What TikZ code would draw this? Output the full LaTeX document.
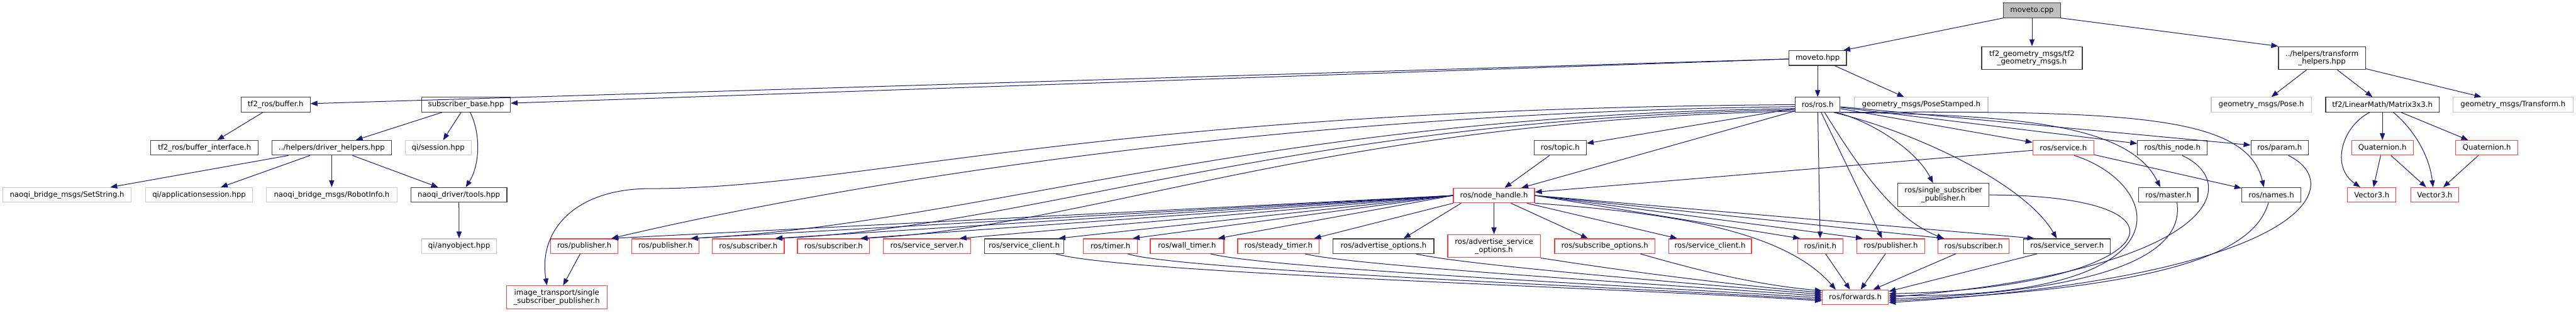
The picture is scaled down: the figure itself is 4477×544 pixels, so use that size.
\documentclass[tikz,border=0pt]{standalone}
\usepackage{fontspec}
\setmainfont{DejaVu Sans}
\usepackage{tikz}
\usetikzlibrary{arrows.meta}
\definecolor{edgeblue}{RGB}{25,25,112}
\definecolor{boxgrey}{RGB}{64,64,64}
\definecolor{truncred}{RGB}{255,64,64}
\definecolor{extgrey}{RGB}{200,200,200}
\definecolor{srcfill}{RGB}{191,191,191}

\begin{document}
\begin{tikzpicture}[
        x=1pt, y=-1pt,
        hfile/.style={
            rectangle,
            draw=boxgrey,
            fill=white,
            line width=1.3pt,
            minimum height=25.5pt,
            inner xsep=2pt,
            inner ysep=1pt,
            align=center,
            font=\fontsize{12.8}{14}\selectfont
        },
        trunc/.style={hfile, draw=truncred},
        extfile/.style={hfile, draw=extgrey},
        srcfile/.style={hfile, fill=srcfill},
        dep/.style={
            -{Triangle[length=12pt, width=9pt]},
            line width=1.1pt,
            edgeblue
        }
    ]
        \useasboundingbox (0,0) rectangle (4477,544);

        \node [srcfile, minimum width=99] (cpp) at (3531.5,18) {moveto.cpp};
        \node [hfile, minimum width=100] (hpp) at (3159,101) {moveto.hpp};
        \node [hfile, minimum width=175, minimum height=40] (tfgeo) at (3531.5,101) {tf2\_geometry\_msgs/tf2\\\_geometry\_msgs.h};
        \node [hfile, minimum width=151, minimum height=40] (trh) at (4035.5,101) {../helpers/transform\\\_helpers.hpp};

        \node [hfile, minimum width=120] (buf) at (479,182) {tf2\_ros/buffer.h};
        \node [hfile, minimum width=154] (subbase) at (810,182) {subscriber\_base.hpp};
        \node [hfile, minimum width=78] (ros) at (3159,182) {ros/ros.h};
        \node [extfile, minimum width=232] (posest) at (3339,182) {geometry\_msgs/PoseStamped.h};
        \node [extfile, minimum width=174] (pose) at (3930,182) {geometry\_msgs/Pose.h};
        \node [hfile, minimum width=197] (mat) at (4140.5,182) {tf2/LinearMath/Matrix3x3.h};
        \node [extfile, minimum width=209] (trf) at (4367.5,182) {geometry\_msgs/Transform.h};

        \node [hfile, minimum width=187] (bufif) at (355.5,257) {tf2\_ros/buffer\_interface.h};
        \node [hfile, minimum width=207] (drvh) at (576.5,257) {../helpers/driver\_helpers.hpp};
        \node [extfile, minimum width=115] (sess) at (761.5,257) {qi/session.hpp};
        \node [hfile, minimum width=91] (topic) at (2711.5,257) {ros/topic.h};
        \node [trunc, minimum width=106] (srv) at (3586,257) {ros/service.h};
        \node [hfile, minimum width=121] (thisn) at (3775.5,257) {ros/this\_node.h};
        \node [hfile, minimum width=100] (param) at (3962,257) {ros/param.h};
        \node [trunc, minimum width=107] (quat1) at (4140.5,257) {Quaternion.h};
        \node [trunc, minimum width=108] (quat2) at (4322,257) {Quaternion.h};

        \node [extfile, minimum width=223] (setstr) at (116.5,339) {naoqi\_bridge\_msgs/SetString.h};
        \node [extfile, minimum width=186] (appses) at (346,339) {qi/applicationsession.hpp};
        \node [extfile, minimum width=227] (robinf) at (576.5,339) {naoqi\_bridge\_msgs/RobotInfo.h};
        \node [hfile, minimum width=167] (tools) at (797.5,339) {naoqi\_driver/tools.hpp};
        \node [trunc, minimum width=141] (nh) at (2596.5,340) {ros/node\_handle.h};
        \node [hfile, minimum width=159, minimum height=40] (ssp) at (3377.5,339) {ros/single\_subscriber\\\_publisher.h};
        \node [hfile, minimum width=103] (master) at (3768.5,339) {ros/master.h};
        \node [hfile, minimum width=103] (names) at (3947.5,339) {ros/names.h};
        \node [trunc, minimum width=84] (vec1) at (4122,339) {Vector3.h};
        \node [trunc, minimum width=83] (vec2) at (4231.5,339) {Vector3.h};

        \node [extfile, minimum width=130] (anyobj) at (798,428) {qi/anyobject.hpp};
        \node [trunc, minimum width=117] (pubA) at (1015.5,428) {ros/publisher.h};
        \node [trunc, minimum width=117] (pubB) at (1156.5,428) {ros/publisher.h};
        \node [trunc, minimum width=125] (sub1) at (1300.5,428) {ros/subscriber.h};
        \node [trunc, minimum width=125] (sub2) at (1448.5,428) {ros/subscriber.h};
        \node [trunc, minimum width=152] (ssrvR) at (1611,428) {ros/service\_server.h};
        \node [hfile, minimum width=138] (sclB) at (1780,428) {ros/service\_client.h};
        \node [trunc, minimum width=94] (timer) at (1930,428) {ros/timer.h};
        \node [trunc, minimum width=128] (wall) at (2063,428) {ros/wall\_timer.h};
        \node [trunc, minimum width=142] (steady) at (2222,428) {ros/steady\_timer.h};
        \node [hfile, minimum width=175] (advo) at (2404.5,428) {ros/advertise\_options.h};
        \node [trunc, minimum width=161, minimum height=40] (advso) at (2596.5,428) {ros/advertise\_service\\\_options.h};
        \node [trunc, minimum width=174] (subo) at (2789,428) {ros/subscribe\_options.h};
        \node [trunc, minimum width=144] (sclR) at (2972,428) {ros/service\_client.h};
        \node [trunc, minimum width=79] (init) at (3163.5,428) {ros/init.h};
        \node [trunc, minimum width=118] (pubC) at (3286,428) {ros/publisher.h};
        \node [trunc, minimum width=124] (sub3) at (3430,428) {ros/subscriber.h};
        \node [hfile, minimum width=151] (ssrvB) at (3592.5,428) {ros/service\_server.h};

        \node [trunc, minimum width=175, minimum height=40] (imgtr) at (967.5,517) {image\_transport/single\\\_subscriber\_publisher.h};
        \node [trunc, minimum width=115] (fwd) at (3224.5,517) {ros/forwards.h};

        \coordinate (imgbend) at (1130,328);

        \draw [dep] (cpp.south west) -- ([xshift=-6pt]hpp.north east);
        \draw [dep] (cpp) -- (tfgeo);
        \draw [dep] (cpp.south east) -- (trh.north west);
        \draw [dep] (hpp) -- (ros);
        \draw [dep] (hpp) -- (posest);
        \draw [dep] (hpp) -- (buf);
        \draw [dep] (hpp) -- (subbase);
        \draw [dep] (trh) -- (pose);
        \draw [dep] (trh) -- (mat);
        \draw [dep] (trh) -- (trf);
        \draw [dep] ([xshift=-22pt]mat.south) .. controls (4070,220) and (4050,290) .. ([xshift=-20pt]vec1.north);
        \draw [dep] (mat) -- (quat1);
        \draw [dep] ([xshift=19pt]mat.south) .. controls (4195,225) and (4222,270) .. ([xshift=-3pt]vec2.north);
        \draw [dep] (mat) -- (quat2);
        \draw [dep] (quat1) -- (vec1);
        \draw [dep] (quat1) -- (vec2);
        \draw [dep] (quat2) -- (vec2);

        \draw [dep] (buf) -- (bufif);
        \draw [dep] (subbase) -- (drvh);
        \draw [dep] (subbase) -- (sess);
        \draw [dep] ([xshift=7pt]subbase.south) .. controls (835,230) and (835,285) .. ([xshift=12pt]tools.north);
        \draw [dep] (drvh) -- (setstr);
        \draw [dep] (drvh) -- (appses);
        \draw [dep] (drvh) -- (robinf);
        \draw [dep] (drvh) -- (tools);
        \draw [dep] (tools) -- (anyobj);

        \draw [dep] (ros) -- (topic);
        \draw [dep] (ros) -- (nh);
        \draw [dep] (topic) -- (nh);
        \draw [dep] (ros) -- (srv);
        \draw [dep] (ros) -- (thisn);
        \draw [dep] (ros) -- (param);
        \draw [dep] (ros.south east) .. controls (3500,200) and (3700,215) .. ([xshift=-14pt]master.north);
        \draw [dep] (ros.south east) .. controls (3700,192) and (3905,200) .. ([xshift=-13pt]names.north);
        \draw [dep] ([xshift=-8pt]ros.south east) .. controls (3250,210) and (3330,260) .. ([xshift=-18pt]ssp.north);
        \draw [dep] (ros) -- (init);
        \draw [dep] ([xshift=6pt]ros.south) -- ([xshift=-15pt]pubC.north);
        \draw [dep] ([xshift=12pt]ros.south) .. controls (3230,290) and (3290,380) .. ([xshift=-52pt]sub3.north);
        \draw [dep] ([xshift=-12pt]ros.south east) .. controls (3330,230) and (3520,320) .. ([xshift=-18pt]ssrvB.north);
        \draw [dep] (ros.west) .. controls (1900,190) and (1500,328) .. (imgbend) .. controls (1000,328) and (935,400) .. ([xshift=-17pt]imgtr.north);
        \draw [dep] (ros.185) .. controls (2300,195) and (1550,300) .. ([xshift=-12pt]pubA.north east);
        \draw [dep] (ros.190) .. controls (2200,200) and (1700,390) .. ([xshift=-15pt]pubB.north east);
        \draw [dep] (ros.193) .. controls (2250,205) and (1800,395) .. ([xshift=-16pt]sub1.north east);
        \draw [dep] (ros.196) .. controls (2300,210) and (1900,395) .. ([xshift=-16pt]sub2.north east);
        \draw [dep] (pubA) -- (imgtr);

        \draw [dep] (nh.west) -- ([xshift=-12pt]pubA.north east);
        \draw [dep] (nh.west) -- ([xshift=-15pt]pubB.north east);
        \draw [dep] (nh.west) -- ([xshift=-16pt]sub1.north east);
        \draw [dep] (nh.west) -- ([xshift=-16pt]sub2.north east);
        \draw [dep] (nh.west) -- ([xshift=-20pt]ssrvR.north east);
        \draw [dep] (nh.west) -- ([xshift=-10pt]sclB.north east);
        \draw [dep] (nh.west) -- ([xshift=-9pt]timer.north east);
        \draw [dep] (nh.west) -- ([xshift=-11pt]wall.north east);
        \draw [dep] (nh.south west) -- ([xshift=-10pt]steady.north east);
        \draw [dep] ([xshift=14pt]nh.south west) -- ([xshift=35pt]advo.north);
        \draw [dep] (nh) -- (advso);
        \draw [dep] (nh) -- (subo);
        \draw [dep] (nh) -- (sclR);
        \draw [dep] (nh.east) -- ([xshift=5pt]init.north west);
        \draw [dep] (nh.east) -- ([xshift=11pt]pubC.north west);
        \draw [dep] (nh.east) -- ([xshift=12pt]sub3.north west);
        \draw [dep] (nh.east) -- ([xshift=19pt]ssrvB.north west);
        \draw [dep] (nh.south east) .. controls (2900,370) and (3100,400) .. ([xshift=-34pt]fwd.north);

        \draw [dep] (srv) -- (names);
        \draw [dep] (srv) -- (nh);
        \draw [dep] ([xshift=19pt]srv.south) .. controls (3760,320) and (3820,520) .. (fwd.3);
        \draw [dep] ([xshift=17pt]thisn.south) .. controls (3900,320) and (3850,470) .. (fwd.0);
        \draw [dep] ([xshift=15pt]master.south) .. controls (3795,430) and (3700,505) .. (fwd.357);
        \draw [dep] ([xshift=-5pt]names.south) .. controls (3920,430) and (3800,500) .. (fwd.354);
        \draw [dep] ([xshift=15pt]param.south) .. controls (4080,320) and (4020,480) .. (fwd.351);
        \draw [dep] (ssp.east) .. controls (3850,340) and (3750,500) .. (fwd.6);
        \draw [dep] ([xshift=-52pt]ssrvB.south) -- (fwd.10);
        \draw [dep] (init) -- (fwd);
        \draw [dep] (pubC) -- (fwd);
        \draw [dep] (sub3) -- (fwd);

        \draw [dep] ([xshift=-15pt]sclB.south east) .. controls (1950,475) and (2800,500) .. (fwd.186);
        \draw [dep] ([xshift=-18pt]timer.south east) .. controls (2050,470) and (2800,498) .. (fwd.184);
        \draw [dep] ([xshift=-24pt]wall.south east) .. controls (2200,466) and (2800,495) .. (fwd.181);
        \draw [dep] ([xshift=-26pt]steady.south east) .. controls (2350,462) and (2850,492) .. (fwd.178);
        \draw [dep] ([xshift=-32pt]advo.south east) .. controls (2540,460) and (2900,490) .. (fwd.175);
        \draw [dep] (advso.south east) .. controls (2750,460) and (2950,490) .. (fwd.172);
        \draw [dep] ([xshift=-26pt]subo.south east) .. controls (2950,470) and (3050,495) .. (fwd.169);
    \end{tikzpicture}
\end{document}
